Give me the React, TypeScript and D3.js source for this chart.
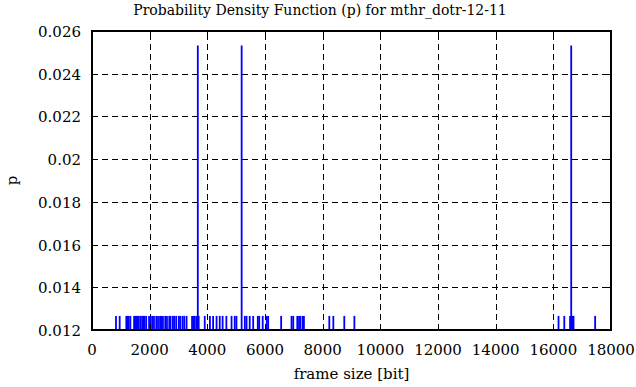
import React, { useEffect, useRef } from 'react';
import * as d3 from 'd3';

// frame sizes (bits) seen once, and the three seen twice
const singleFrames = [
  832, 960,
  1190, 1230, 1270, 1330,
  1460, 1500, 1540, 1580, 1620, 1680, 1740, 1780, 1820, 1880,
  1980, 2040, 2100, 2150, 2230, 2290,
  2360, 2400, 2460, 2540, 2600, 2680, 2720, 2800, 2850, 2920, 3010,
  3060, 3140, 3200, 3280,
  3470, 3520, 3560, 3620, 3700,
  3910, 4090, 4200, 4320, 4430, 4530, 4660, 4840, 4950, 5010,
  5300, 5360, 5470, 5590,
  5750, 5800, 5920, 6060, 6110, 6560, 6920, 6980, 7120, 7180, 7230, 7310, 7350,
  8230, 8370, 8750, 9100,
  16180, 16380, 16580, 16660, 16700, 17450,
];
const doubleFrames = [3670, 5190, 16620];
const pSingle = 0.01266;
const pDouble = 0.02532;

const xTicks = [0, 2000, 4000, 6000, 8000, 10000, 12000, 14000, 16000, 18000];
const yTicks = [0.012, 0.014, 0.016, 0.018, 0.02, 0.022, 0.024, 0.026];

const W = 636;
const H = 387;
const margin = { top: 31, right: 25, bottom: 57, left: 92 };

export default function App() {
  const ref = useRef<SVGSVGElement>(null);

  useEffect(() => {
    if (!ref.current) return;
    const svg = d3.select(ref.current);
    svg.selectAll('*').remove();

    const font = '"DejaVu Serif", "Liberation Serif", serif';
    const x = d3.scaleLinear().domain([0, 18000]).range([margin.left, W - margin.right]);
    const y = d3.scaleLinear().domain([0.012, 0.026]).range([H - margin.bottom, margin.top]);

    svg.append('rect').attr('width', W).attr('height', H).attr('fill', '#fff');

    // dashed grid
    const grid = svg.append('g').attr('stroke', '#000').attr('stroke-width', 1).attr('stroke-dasharray', '6,4');
    grid.selectAll('.gx')
      .data(xTicks.slice(1, -1))
      .join('line')
      .attr('x1', d => Math.round(x(d)) + 0.5)
      .attr('x2', d => Math.round(x(d)) + 0.5)
      .attr('y1', y(0.012))
      .attr('y2', y(0.026));
    grid.selectAll('.gy')
      .data(yTicks.slice(1, -1))
      .join('line')
      .attr('y1', d => Math.round(y(d)) + 0.5)
      .attr('y2', d => Math.round(y(d)) + 0.5)
      .attr('x1', x(0))
      .attr('x2', x(18000));

    // impulses
    const data = [
      ...singleFrames.map(f => ({ f, p: pSingle })),
      ...doubleFrames.map(f => ({ f, p: pDouble })),
    ];
    svg.append('g')
      .selectAll('line')
      .data(data)
      .join('line')
      .attr('x1', d => x(d.f))
      .attr('x2', d => x(d.f))
      .attr('y1', y(0.012))
      .attr('y2', d => y(d.p))
      .attr('stroke', '#0000ff')
      .attr('stroke-width', 1.8);

    // ticks (inward, mirrored)
    const ticks = svg.append('g').attr('stroke', '#000').attr('stroke-width', 1);
    xTicks.forEach(t => {
      const xx = Math.round(x(t)) + 0.5;
      ticks.append('line').attr('x1', xx).attr('x2', xx).attr('y1', y(0.012)).attr('y2', y(0.012) - 6);
      ticks.append('line').attr('x1', xx).attr('x2', xx).attr('y1', y(0.026)).attr('y2', y(0.026) + 6);
    });
    yTicks.forEach(t => {
      const yy = Math.round(y(t)) + 0.5;
      ticks.append('line').attr('y1', yy).attr('y2', yy).attr('x1', x(0)).attr('x2', x(0) + 6);
      ticks.append('line').attr('y1', yy).attr('y2', yy).attr('x1', x(18000)).attr('x2', x(18000) - 6);
    });

    // border
    svg.append('rect')
      .attr('x', x(0))
      .attr('y', y(0.026))
      .attr('width', x(18000) - x(0))
      .attr('height', y(0.012) - y(0.026))
      .attr('fill', 'none')
      .attr('stroke', '#000')
      .attr('stroke-width', 2);

    const txt = (s: d3.Selection<SVGTextElement, any, any, any>) =>
      s.attr('font-family', font).attr('font-size', 15).attr('fill', '#000');

    svg.append('g')
      .selectAll('text')
      .data(xTicks)
      .join('text')
      .call(txt)
      .attr('x', d => x(d))
      .attr('y', y(0.012) + 25)
      .attr('text-anchor', 'middle')
      .text(d => String(d));

    svg.append('g')
      .selectAll('text')
      .data(yTicks)
      .join('text')
      .call(txt)
      .attr('x', x(0) - 11)
      .attr('y', d => y(d) + 6)
      .attr('text-anchor', 'end')
      .text(d => String(+d.toFixed(3)));

    svg.append('text')
      .call(txt)
      .attr('font-size', 14)
      .attr('x', 320)
      .attr('y', 15)
      .attr('text-anchor', 'middle')
      .text('Probability Density Function (p) for mthr_dotr-12-11');

    svg.append('text')
      .call(txt)
      .attr('x', (x(0) + x(18000)) / 2)
      .attr('y', 379)
      .attr('text-anchor', 'middle')
      .text('frame size [bit]');

    svg.append('text')
      .call(txt)
      .attr('transform', `translate(17,${(y(0.012) + y(0.026)) / 2}) rotate(-90)`)
      .attr('text-anchor', 'middle')
      .text('p');
  }, []);

  return (
    <div style={{ position: 'absolute', left: 0, top: 0 }}>
      <svg ref={ref} width={W} height={H} style={{ display: 'block' }} />
    </div>
  );
}
